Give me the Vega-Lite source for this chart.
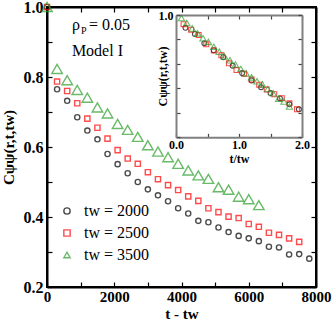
{
  "$schema": "https://vega.github.io/schema/vega-lite/v6.json",
  "autosize": "none",
  "padding": {"left": 47, "top": 7, "right": 16, "bottom": 37},
  "width": 269,
  "height": 280,
  "config": {
    "font": "Liberation Serif, Times New Roman, serif",
    "view": {"stroke": "black", "strokeWidth": 2},
    "axis": {
      "labelFont": "Liberation Serif, Times New Roman, serif", "titleFont": "Liberation Serif, Times New Roman, serif",
      "labelColor": "black", "titleColor": "black", "domainColor": "black", "tickColor": "black",
      "grid": false, "labelFontWeight": "bold", "titleFontWeight": "bold",
      "domainWidth": 2, "tickWidth": 1.2
    },
    "legend": {"labelFont": "Liberation Serif, Times New Roman, serif", "labelColor": "black"},
    "text": {"font": "Liberation Serif, Times New Roman, serif"}
  },
  "datasets": {
    "main": [
      {"tw": "2000", "dt": 0, "c": 1.0},
      {"tw": "2000", "dt": 300, "c": 0.765},
      {"tw": "2000", "dt": 600, "c": 0.732},
      {"tw": "2000", "dt": 900, "c": 0.685},
      {"tw": "2000", "dt": 1200, "c": 0.647},
      {"tw": "2000", "dt": 1500, "c": 0.622},
      {"tw": "2000", "dt": 1800, "c": 0.58},
      {"tw": "2000", "dt": 2100, "c": 0.551},
      {"tw": "2000", "dt": 2400, "c": 0.525},
      {"tw": "2000", "dt": 2700, "c": 0.5},
      {"tw": "2000", "dt": 3000, "c": 0.479},
      {"tw": "2000", "dt": 3300, "c": 0.462},
      {"tw": "2000", "dt": 3600, "c": 0.445},
      {"tw": "2000", "dt": 3900, "c": 0.425},
      {"tw": "2000", "dt": 4200, "c": 0.41},
      {"tw": "2000", "dt": 4500, "c": 0.389},
      {"tw": "2000", "dt": 4800, "c": 0.385},
      {"tw": "2000", "dt": 5100, "c": 0.37},
      {"tw": "2000", "dt": 5400, "c": 0.357},
      {"tw": "2000", "dt": 5700, "c": 0.346},
      {"tw": "2000", "dt": 6000, "c": 0.339},
      {"tw": "2000", "dt": 6300, "c": 0.331},
      {"tw": "2000", "dt": 6600, "c": 0.315},
      {"tw": "2000", "dt": 6900, "c": 0.313},
      {"tw": "2000", "dt": 7200, "c": 0.293},
      {"tw": "2000", "dt": 7500, "c": 0.294},
      {"tw": "2000", "dt": 7800, "c": 0.281},
      {"tw": "2500", "dt": 0, "c": 1.0},
      {"tw": "2500", "dt": 300, "c": 0.787},
      {"tw": "2500", "dt": 600, "c": 0.76},
      {"tw": "2500", "dt": 900, "c": 0.725},
      {"tw": "2500", "dt": 1200, "c": 0.681},
      {"tw": "2500", "dt": 1500, "c": 0.655},
      {"tw": "2500", "dt": 1800, "c": 0.624},
      {"tw": "2500", "dt": 2100, "c": 0.591},
      {"tw": "2500", "dt": 2400, "c": 0.567},
      {"tw": "2500", "dt": 2700, "c": 0.552},
      {"tw": "2500", "dt": 3000, "c": 0.528},
      {"tw": "2500", "dt": 3300, "c": 0.508},
      {"tw": "2500", "dt": 3600, "c": 0.491},
      {"tw": "2500", "dt": 3900, "c": 0.477},
      {"tw": "2500", "dt": 4200, "c": 0.459},
      {"tw": "2500", "dt": 4500, "c": 0.446},
      {"tw": "2500", "dt": 4800, "c": 0.425},
      {"tw": "2500", "dt": 5100, "c": 0.414},
      {"tw": "2500", "dt": 5400, "c": 0.401},
      {"tw": "2500", "dt": 5700, "c": 0.397},
      {"tw": "2500", "dt": 6000, "c": 0.38},
      {"tw": "2500", "dt": 6300, "c": 0.372},
      {"tw": "2500", "dt": 6600, "c": 0.355},
      {"tw": "2500", "dt": 6900, "c": 0.349},
      {"tw": "2500", "dt": 7200, "c": 0.339},
      {"tw": "2500", "dt": 7500, "c": 0.329},
      {"tw": "3500", "dt": 0, "c": 1.0},
      {"tw": "3500", "dt": 300, "c": 0.823},
      {"tw": "3500", "dt": 600, "c": 0.791},
      {"tw": "3500", "dt": 900, "c": 0.763},
      {"tw": "3500", "dt": 1200, "c": 0.741},
      {"tw": "3500", "dt": 1500, "c": 0.713},
      {"tw": "3500", "dt": 1800, "c": 0.696},
      {"tw": "3500", "dt": 2100, "c": 0.666},
      {"tw": "3500", "dt": 2400, "c": 0.649},
      {"tw": "3500", "dt": 2700, "c": 0.629},
      {"tw": "3500", "dt": 3000, "c": 0.605},
      {"tw": "3500", "dt": 3300, "c": 0.587},
      {"tw": "3500", "dt": 3600, "c": 0.571},
      {"tw": "3500", "dt": 3900, "c": 0.552},
      {"tw": "3500", "dt": 4200, "c": 0.533},
      {"tw": "3500", "dt": 4500, "c": 0.519},
      {"tw": "3500", "dt": 4800, "c": 0.509},
      {"tw": "3500", "dt": 5100, "c": 0.485},
      {"tw": "3500", "dt": 5400, "c": 0.478},
      {"tw": "3500", "dt": 5700, "c": 0.458},
      {"tw": "3500", "dt": 6000, "c": 0.451},
      {"tw": "3500", "dt": 6300, "c": 0.434}
    ],
    "inset": [
      {"tw": "2000", "r": 0.15, "c": 0.895},
      {"tw": "2000", "r": 0.30, "c": 0.845},
      {"tw": "2000", "r": 0.45, "c": 0.77},
      {"tw": "2000", "r": 0.60, "c": 0.712},
      {"tw": "2000", "r": 0.75, "c": 0.655},
      {"tw": "2000", "r": 0.90, "c": 0.585},
      {"tw": "2000", "r": 1.05, "c": 0.525},
      {"tw": "2000", "r": 1.20, "c": 0.465},
      {"tw": "2000", "r": 1.35, "c": 0.41},
      {"tw": "2000", "r": 1.50, "c": 0.362},
      {"tw": "2000", "r": 1.65, "c": 0.318},
      {"tw": "2000", "r": 1.80, "c": 0.27},
      {"tw": "2000", "r": 1.95, "c": 0.229},
      {"tw": "2500", "r": 0.12, "c": 0.925},
      {"tw": "2500", "r": 0.24, "c": 0.88},
      {"tw": "2500", "r": 0.36, "c": 0.836},
      {"tw": "2500", "r": 0.48, "c": 0.76},
      {"tw": "2500", "r": 0.60, "c": 0.71},
      {"tw": "2500", "r": 0.72, "c": 0.67},
      {"tw": "2500", "r": 0.84, "c": 0.605},
      {"tw": "2500", "r": 0.96, "c": 0.55},
      {"tw": "2500", "r": 1.08, "c": 0.52},
      {"tw": "2500", "r": 1.20, "c": 0.472},
      {"tw": "2500", "r": 1.32, "c": 0.43},
      {"tw": "2500", "r": 1.44, "c": 0.39},
      {"tw": "2500", "r": 1.56, "c": 0.352},
      {"tw": "2500", "r": 1.68, "c": 0.32},
      {"tw": "2500", "r": 1.80, "c": 0.278},
      {"tw": "2500", "r": 1.92, "c": 0.229},
      {"tw": "3500", "r": 0.086, "c": 0.975},
      {"tw": "3500", "r": 0.171, "c": 0.935},
      {"tw": "3500", "r": 0.257, "c": 0.89},
      {"tw": "3500", "r": 0.343, "c": 0.85},
      {"tw": "3500", "r": 0.429, "c": 0.81},
      {"tw": "3500", "r": 0.514, "c": 0.78},
      {"tw": "3500", "r": 0.60, "c": 0.74},
      {"tw": "3500", "r": 0.686, "c": 0.70},
      {"tw": "3500", "r": 0.771, "c": 0.66},
      {"tw": "3500", "r": 0.857, "c": 0.63},
      {"tw": "3500", "r": 0.943, "c": 0.595},
      {"tw": "3500", "r": 1.029, "c": 0.558},
      {"tw": "3500", "r": 1.114, "c": 0.523},
      {"tw": "3500", "r": 1.20, "c": 0.49},
      {"tw": "3500", "r": 1.286, "c": 0.458},
      {"tw": "3500", "r": 1.371, "c": 0.433},
      {"tw": "3500", "r": 1.457, "c": 0.395},
      {"tw": "3500", "r": 1.543, "c": 0.36},
      {"tw": "3500", "r": 1.629, "c": 0.315},
      {"tw": "3500", "r": 1.714, "c": 0.293},
      {"tw": "3500", "r": 1.80, "c": 0.252}
    ]
  },
  "resolve": {"scale": {"x": "independent", "y": "independent"}},
  "layer": [
    {
      "data": {"name": "main"},
      "mark": {"type": "point", "filled": false, "strokeWidth": 1.4, "clip": false},
      "encoding": {
        "x": {
          "field": "dt", "type": "quantitative",
          "scale": {"domain": [0, 8000], "nice": false, "zero": false},
          "axis": {
            "orient": "bottom",
            "values": [0, 1000, 2000, 3000, 4000, 5000, 6000, 7000, 8000],
            "format": "d",
            "labelExpr": "datum.value % 2000 == 0 ? datum.label : ''",
            "tickSize": -5, "labelPadding": 7, "labelFontSize": 15, "labelFlush": false,
            "title": "t - tw", "titleFontSize": 15, "titleY": 26, "titleBaseline": "middle"
          }
        },
        "y": {
          "field": "c", "type": "quantitative",
          "scale": {"domain": [0.2, 1.0], "nice": false, "zero": false},
          "axis": {
            "orient": "left",
            "values": [0.2, 0.3, 0.4, 0.5, 0.6, 0.7, 0.8, 0.9, 1.0],
            "labelExpr": "round(datum.value * 10) % 2 == 0 ? format(datum.value, '.1f') : ''",
            "tickSize": -5, "labelPadding": 9, "labelFontSize": 16,
            "title": "Cψψ(r,t,tw)", "titleFontSize": 15, "titleX": -31, "titleY": 140
          }
        },
        "color": {
          "field": "tw", "type": "nominal",
          "scale": {"domain": ["2000", "2500", "3500"], "range": ["#000000", "#ff0000", "#2a9d2a"]},
          "legend": {
            "orient": "none", "legendX": 12, "legendY": 196, "title": null,
            "labelExpr": "'tw = ' + datum.label", "labelFontSize": 16, "labelFontWeight": "normal",
            "rowPadding": 6, "labelOffset": 9, "symbolStrokeWidth": 1.4, "symbolSize": 40,
            "encode": {"symbols": {"size": {"signal": "datum.value == 3500 ? 110 : 28"}}}
          }
        },
        "shape": {
          "field": "tw", "type": "nominal",
          "scale": {"domain": ["2000", "2500", "3500"], "range": ["circle", "square", "triangle-up"]}
        },
        "size": {"condition": {"test": "datum.tw === '3500'", "value": 110}, "value": 27}
      }
    },
    {
      "data": {"name": "main"},
      "mark": {"type": "point", "opacity": 0},
      "encoding": {
        "x": {
          "field": "dt", "type": "quantitative",
          "scale": {"domain": [0, 8000], "nice": false, "zero": false},
          "axis": {"orient": "top", "values": [0, 1000, 2000, 3000, 4000, 5000, 6000, 7000, 8000], "labels": false, "tickSize": -5, "title": null}
        },
        "y": {
          "field": "c", "type": "quantitative",
          "scale": {"domain": [0.2, 1.0], "nice": false, "zero": false},
          "axis": {"orient": "right", "values": [0.2, 0.3, 0.4, 0.5, 0.6, 0.7, 0.8, 0.9, 1.0], "labels": false, "tickSize": -5, "title": null}
        }
      }
    },
    {
      "data": {"values": [{"label": "ρ"}]},
      "mark": {"type": "text", "fontSize": 16, "align": "left", "baseline": "middle", "color": "black"},
      "encoding": {
        "x": {"datum": 743, "type": "quantitative", "scale": {"domain": [0, 8000], "nice": false, "zero": false}, "axis": null},
        "y": {"datum": 0.949, "type": "quantitative", "scale": {"domain": [0.2, 1.0], "nice": false, "zero": false}, "axis": null},
        "text": {"field": "label"}
      }
    },
    {
      "data": {"values": [{"label": "P"}]},
      "mark": {"type": "text", "fontSize": 10, "align": "left", "baseline": "middle", "color": "black"},
      "encoding": {
        "x": {"datum": 1010, "type": "quantitative", "scale": {"domain": [0, 8000], "nice": false, "zero": false}, "axis": null},
        "y": {"datum": 0.932, "type": "quantitative", "scale": {"domain": [0.2, 1.0], "nice": false, "zero": false}, "axis": null},
        "text": {"field": "label"}
      }
    },
    {
      "data": {"values": [{"label": "= 0.05"}]},
      "mark": {"type": "text", "fontSize": 16, "align": "left", "baseline": "middle", "color": "black"},
      "encoding": {
        "x": {"datum": 1250, "type": "quantitative", "scale": {"domain": [0, 8000], "nice": false, "zero": false}, "axis": null},
        "y": {"datum": 0.949, "type": "quantitative", "scale": {"domain": [0.2, 1.0], "nice": false, "zero": false}, "axis": null},
        "text": {"field": "label"}
      }
    },
    {
      "data": {"values": [{"label": "Model I"}]},
      "mark": {"type": "text", "fontSize": 16, "align": "center", "baseline": "middle", "color": "black"},
      "encoding": {
        "x": {"datum": 1500, "type": "quantitative", "scale": {"domain": [0, 8000], "nice": false, "zero": false}, "axis": null},
        "y": {"datum": 0.875, "type": "quantitative", "scale": {"domain": [0.2, 1.0], "nice": false, "zero": false}, "axis": null},
        "text": {"field": "label"}
      }
    },
    {
      "data": {"name": "inset"},
      "mark": {"type": "point", "filled": false, "strokeWidth": 1.1},
      "encoding": {
        "x": {
          "field": "r", "type": "quantitative",
          "scale": {"domain": [0, 2], "range": [129, 255], "nice": false, "zero": false},
          "axis": {
            "orient": "bottom", "offset": -149.7,
            "values": [0, 0.5, 1, 1.5, 2],
            "labelExpr": "datum.value % 1 == 0 ? format(datum.value, '.1f') : ''",
            "tickSize": -4, "labelPadding": 6, "labelFontSize": 12, "labelFlush": false,
            "domainColor": "#808080", "tickColor": "#444444",
            "title": "t/tw", "titleFontSize": 12, "titleY": 21, "titleBaseline": "middle"
          }
        },
        "y": {
          "field": "c", "type": "quantitative",
          "scale": {"domain": [0, 1], "range": [130.3, 8], "nice": false, "zero": false},
          "axis": {
            "orient": "left", "offset": -129,
            "values": [0, 0.2, 0.4, 0.6, 0.8, 1.0],
            "labelExpr": "datum.value == 1 ? '1.0' : ''",
            "tickSize": -4, "labelPadding": 7, "labelFontSize": 12,
            "domainColor": "#808080", "tickColor": "#444444",
            "title": "Cψψ(r,t,tw)", "titleFontSize": 12, "titleX": -7, "titleY": 69
          }
        },
        "color": {"field": "tw", "type": "nominal", "legend": null},
        "shape": {"field": "tw", "type": "nominal", "legend": null},
        "size": {"condition": {"test": "datum.tw === '3500'", "value": 40}, "value": 24}
      }
    },
    {
      "data": {"name": "inset"},
      "mark": {"type": "point", "opacity": 0},
      "encoding": {
        "x": {
          "field": "r", "type": "quantitative",
          "scale": {"domain": [0, 2], "range": [129, 255], "nice": false, "zero": false},
          "axis": {"orient": "top", "offset": -8, "values": [0, 0.5, 1, 1.5, 2], "labels": false, "tickSize": -4, "domainColor": "#808080", "tickColor": "#444444", "title": null}
        },
        "y": {
          "field": "c", "type": "quantitative",
          "scale": {"domain": [0, 1], "range": [130.3, 8], "nice": false, "zero": false},
          "axis": {"orient": "right", "offset": -14, "values": [0, 0.2, 0.4, 0.6, 0.8, 1.0], "labels": false, "tickSize": -4, "domainColor": "#808080", "tickColor": "#444444", "title": null}
        }
      }
    }
  ]
}
